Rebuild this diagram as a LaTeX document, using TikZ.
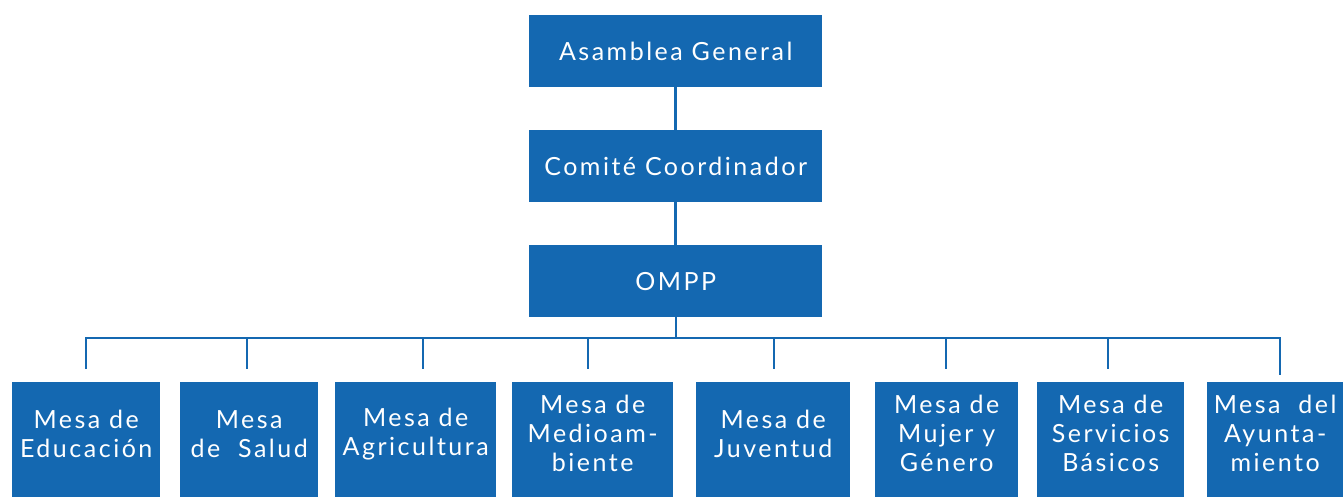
\documentclass[tikz,border=0pt]{standalone}
\usepackage{fontspec}
\setmainfont{Lato}[LetterSpace=10]
\definecolor{orgblue}{RGB}{20,104,177}
\begin{document}
\begin{tikzpicture}[x=1pt,y=-1pt,
  topbox/.style={fill=orgblue, anchor=north west, minimum width=293pt, minimum height=72pt, inner sep=0pt, text=white, font=\fontsize{25}{29}\selectfont},
  mbox/.style={fill=orgblue, anchor=north west, minimum height=115pt, inner sep=0pt},
  mtext/.style={text=white, align=center, font=\fontsize{25}{29}\selectfont, yshift=6pt},
  conn/.style={draw=orgblue, line width=2.6pt},
  bus/.style={draw=orgblue, line width=2.4pt}
]
\useasboundingbox (0,0) rectangle (1343,497);
\node[topbox] (ag) at (529,15) {Asamblea General};
\node[topbox] (cc) at (529,130) {Comité Coordinador};
\node[topbox] (om) at (529,245) {OMPP};
\draw[conn] (ag.south) -- (cc.north);
\draw[conn] (cc.south) -- (om.north);
\coordinate (b) at (676,338);
\draw[bus] (om.south) -- (om.south |- b);

\node[mbox, minimum width=148pt, label={[mtext]center:Mesa de\\Educación}] (m1) at (12,382) {};
\node[mbox, minimum width=138pt, label={[mtext]center:Mesa\\de\ \ Salud}] (m2) at (180,382) {};
\node[mbox, minimum width=161pt, label={[mtext]center:Mesa de\\Agricultura}] (m3) at (335,382) {};
\node[mbox, minimum width=161pt, label={[mtext]center:Mesa de\\Medioam-\\biente}] (m4) at (512,382) {};
\node[mbox, minimum width=154pt, label={[mtext]center:Mesa de\\Juventud}] (m5) at (696,382) {};
\node[mbox, minimum width=143pt, label={[mtext]center:Mesa de\\Mujer y\\Género}] (m6) at (875,382) {};
\node[mbox, minimum width=147pt, label={[mtext]center:Mesa de\\Servicios\\Básicos}] (m7) at (1037,382) {};
\node[mbox, minimum width=136pt, label={[mtext]center:Mesa\ \ del\\Ayunta-\\miento}] (m8) at (1207,382) {};

\coordinate (d1) at (86,369);
\coordinate (d2) at (247,369);
\coordinate (d3) at (423,369);
\coordinate (d4) at (588,369);
\coordinate (d5) at (774,369);
\coordinate (d6) at (946,369);
\coordinate (d7) at (1108,369);
\coordinate (d8) at (1280,375);
\draw[bus] (d1) -- (d1 |- b) -- (d8 |- b) -- (d8);
\foreach \d in {d2,d3,d4,d5,d6,d7}
  \draw[bus] (\d |- b) -- (\d);
\end{tikzpicture}
\end{document}
